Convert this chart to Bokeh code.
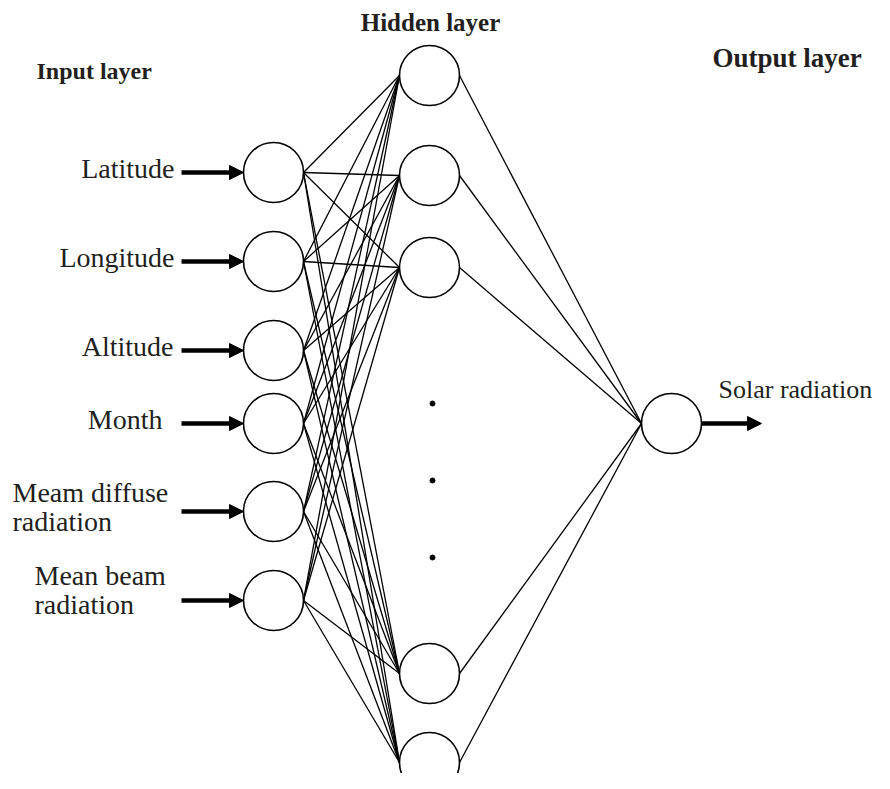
from bokeh.plotting import figure
from bokeh.models import Range1d, Arrow, NormalHead, ColumnDataSource
from bokeh.core.properties import value
from bokeh.embed import file_html
from bokeh.resources import INLINE

# ---- data ----
layer_titles = ["Input layer", "Hidden layer", "Output layer"]
input_labels = ["Latitude", "Longitude", "Altitude", "Month",
                "Meam diffuse\nradiation", "Mean beam\nradiation"]
output_labels = ["Solar radiation"]
input_y = [172, 261, 350, 423, 511, 600]
hidden_y = [75, 175, 267, 673, 762]
output_y = [423]
ellipsis_y = [403, 480, 557]

# ---- layout ----
X_IN, X_HID, X_OUT = 273, 429, 671
R = 30
FONT = "Liberation Serif"
TXT = "#231f20"

p = figure(width=874, height=773, x_range=Range1d(0, 874), y_range=Range1d(773, 0),
           output_backend="svg", toolbar_location=None, min_border=0,
           x_axis_location=None, y_axis_location=None)
p.grid.visible = False
p.outline_line_color = None

# connections input -> hidden
x0, y0, x1, y1 = [], [], [], []
for iy in input_y:
    for hy in hidden_y:
        x0.append(X_IN + R); y0.append(iy); x1.append(X_HID - R); y1.append(hy)
# hidden -> output
for hy in hidden_y:
    for oy in output_y:
        x0.append(X_HID + R); y0.append(hy); x1.append(X_OUT - R); y1.append(oy)
p.segment(x0=x0, y0=y0, x1=x1, y1=y1, line_color="black", line_width=1.3)

# nodes
nx = [X_IN] * len(input_y) + [X_HID] * len(hidden_y) + [X_OUT] * len(output_y)
ny = input_y + hidden_y + output_y
p.circle(x=nx, y=ny, radius=R, radius_dimension="x", fill_color="white",
         line_color="black", line_width=1.6)

# ellipsis dots
p.scatter(x=[X_HID + 3] * len(ellipsis_y), y=ellipsis_y, size=5, color="black")

# input arrows
for iy in input_y:
    p.add_layout(Arrow(end=NormalHead(size=14, fill_color="black", line_color="black", line_width=1),
                       x_start=X_IN - R - 62, y_start=iy, x_end=X_IN - R, y_end=iy,
                       line_width=4.5, line_color="black"))
# output arrow
for oy in output_y:
    p.add_layout(Arrow(end=NormalHead(size=14, fill_color="black", line_color="black", line_width=1),
                       x_start=X_OUT + R, y_start=oy, x_end=X_OUT + R + 60, y_end=oy,
                       line_width=4.5, line_color="black"))

# layer titles
p.text(x=[36], y=[70], text=[layer_titles[0]], text_font=value(FONT), text_font_style="bold",
       text_font_size="24px", text_align="left", text_baseline="middle", text_color=TXT)
p.text(x=[X_HID + 1], y=[22], text=[layer_titles[1]], text_font=value(FONT), text_font_style="bold",
       text_font_size="25px", text_align="center", text_baseline="middle", text_color=TXT)
p.text(x=[712], y=[57], text=[layer_titles[2]], text_font=value(FONT), text_font_style="bold",
       text_font_size="27px", text_align="left", text_baseline="middle", text_color=TXT)

# input labels
lx, ly, lt, la = [], [], [], []
right_edge = [174, 174, 173, 162]
for k, (lab, iy) in enumerate(zip(input_labels, input_y)):
    lines = lab.split("\n")
    if len(lines) == 1:
        lx.append(right_edge[k]); ly.append(iy - 4); lt.append(lab); la.append("right")
    else:
        left = 12 if k == 4 else 34
        top = iy - 19 if k == 4 else iy - 25
        for m, ln in enumerate(lines):
            lx.append(left); ly.append(top + m * 29); lt.append(ln); la.append("left")
src = ColumnDataSource(dict(x=lx, y=ly, t=lt, a=la))
p.text(x="x", y="y", text="t", text_align="a", source=src, text_font=value(FONT),
       text_font_size="28px", text_baseline="middle", text_color=TXT)

# output label
p.text(x=[718], y=[output_y[0] - 34], text=output_labels, text_font=value(FONT),
       text_font_size="26px", text_align="left", text_baseline="middle", text_color=TXT)

open("out.html", "w").write(file_html(p, INLINE))
